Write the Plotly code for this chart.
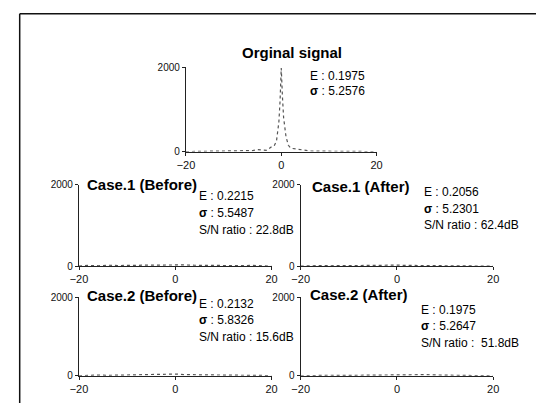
import plotly.graph_objects as go

# Histogram of the original signal (bin centre -> count)
orig_x = [-20, -16, -15, -14, -12, -10, -8, -6, -5, -4, -3, -2, -1.5, -1, -0.5, -0.25, 0, 0.25, 0.5, 1, 1.5, 2, 3, 4, 5, 6, 8, 10, 12, 15, 20]
orig_y = [0, 5, 15, 20, 12, 10, 15, 25, 50, 40, 30, 120, 130, 250, 700, 1200, 1980, 1300, 800, 350, 150, 80, 60, 45, 25, 15, 10, 14, 8, 5, 0]

# Noisy-case histograms (nearly flat, spread over the whole range)
case_x = [-20, -18, -16, -14, -12, -10, -8, -6, -4, -2, 0, 2, 4, 6, 8, 10, 12, 14, 16, 18, 20]
case1_before = [0, 18, 10, 22, 15, 12, 20, 25, 28, 22, 35, 30, 22, 18, 25, 20, 15, 12, 20, 10, 0]
case1_after = [0, 12, 15, 10, 18, 12, 15, 20, 15, 22, 25, 18, 15, 12, 20, 18, 12, 10, 15, 8, 0]
case2_before = [0, 15, 20, 12, 18, 15, 22, 25, 30, 35, 45, 30, 25, 20, 18, 22, 15, 18, 12, 10, 0]
case2_after = [0, 10, 12, 15, 10, 14, 18, 15, 20, 18, 22, 25, 28, 30, 22, 18, 14, 12, 10, 8, 0]

x_ticks = [-20, 0, 20]
y_ticks = [0, 2000]

titles = ["Orginal signal", "Case.1 (Before)", "Case.1 (After)", "Case.2 (Before)", "Case.2 (After)"]
stats = [
    ["E : 0.1975", "<b>σ</b> : 5.2576"],
    ["E : 0.2215", "<b>σ</b> : 5.5487", "S/N ratio : 22.8dB"],
    ["E : 0.2056", "<b>σ</b> : 5.2301", "S/N ratio : 62.4dB"],
    ["E : 0.2132", "<b>σ</b> : 5.8326", "S/N ratio : 15.6dB"],
    ["E : 0.1975", "<b>σ</b> : 5.2647", "S/N ratio :  51.8dB"],
]

W, H = 542, 409


def px(x):
    return x / W


def py(y):
    return 1 - y / H


# panel boxes in pixels: (left, right, top, bottom)
boxes = [
    (182, 378, 63, 150),
    (72, 270, 184, 268),
    (300, 498, 184, 268),
    (72, 270, 300, 381),
    (300, 498, 300, 381),
]
# title placement (x, y, anchor) and stats block origin (x, y top line, line step)
title_pos = [(291, 48, "center"), (78, 184, "left"), (310, 186, "left"), (78, 298, "left"), (307, 297, "left")]
stat_pos = [(308, 72, 16), (193, 196, 17.5), (425, 192, 17), (193, 307, 17), (422, 313, 17)]

series = [
    (orig_x, orig_y),
    (case_x, case1_before),
    (case_x, case1_after),
    (case_x, case2_before),
    (case_x, case2_after),
]

fig = go.Figure()
axis_font = dict(family="Liberation Sans, Arial, sans-serif", size=11, color="#111")

for i, ((xs, ys), box) in enumerate(zip(series, boxes)):
    n = "" if i == 0 else str(i + 1)
    fig.add_trace(go.Scatter(
        x=xs, y=ys, mode="lines",
        line=dict(color="#555", width=1.2, dash="dot"),
        xaxis="x" + n, yaxis="y" + n, showlegend=False,
    ))
    l, r, t, b = box
    fig.layout["xaxis" + n] = dict(
        domain=[px(l), px(r)], anchor="y" + n, range=[-20, 20],
        tickvals=x_ticks, ticks="outside", ticklen=3, tickcolor="#222",
        showline=True, linecolor="#222", linewidth=1.2,
        showgrid=False, zeroline=False, tickfont=axis_font,
    )
    fig.layout["yaxis" + n] = dict(
        domain=[py(b), py(t)], anchor="x" + n, range=[0, 2000],
        tickvals=y_ticks, ticks="outside", ticklen=3, tickcolor="#222",
        showline=True, linecolor="#222", linewidth=1.2,
        showgrid=False, zeroline=False, tickfont=dict(axis_font, size=10),
    )

annotations = []
for (tx, ty, anc), title in zip(title_pos, titles):
    annotations.append(dict(
        x=px(tx), y=py(ty), xref="paper", yref="paper", text="<b>" + title + "</b>",
        showarrow=False, xanchor=anc, yanchor="middle",
        font=dict(family="Liberation Sans, Arial, sans-serif", size=15, color="#000"),
    ))
for (sx, sy, step), lines in zip(stat_pos, stats):
    for k, line in enumerate(lines):
        annotations.append(dict(
            x=px(sx), y=py(sy + k * step), xref="paper", yref="paper", text=line,
            showarrow=False, xanchor="left", yanchor="middle",
            font=dict(family="Liberation Sans, Arial, sans-serif", size=12, color="#000"),
        ))

# outer frame: top edge and left edge
shapes = [
    dict(type="line", xref="paper", yref="paper", x0=px(11), y0=py(8), x1=1, y1=py(8),
         line=dict(color="#111", width=1.5)),
    dict(type="line", xref="paper", yref="paper", x0=px(11), y0=py(8), x1=px(11), y1=0,
         line=dict(color="#111", width=1.5)),
]

fig.update_layout(
    width=W, height=H, margin=dict(l=0, r=0, t=0, b=0),
    paper_bgcolor="white", plot_bgcolor="white",
    annotations=annotations, shapes=shapes,
)

fig.write_html("out.html")
